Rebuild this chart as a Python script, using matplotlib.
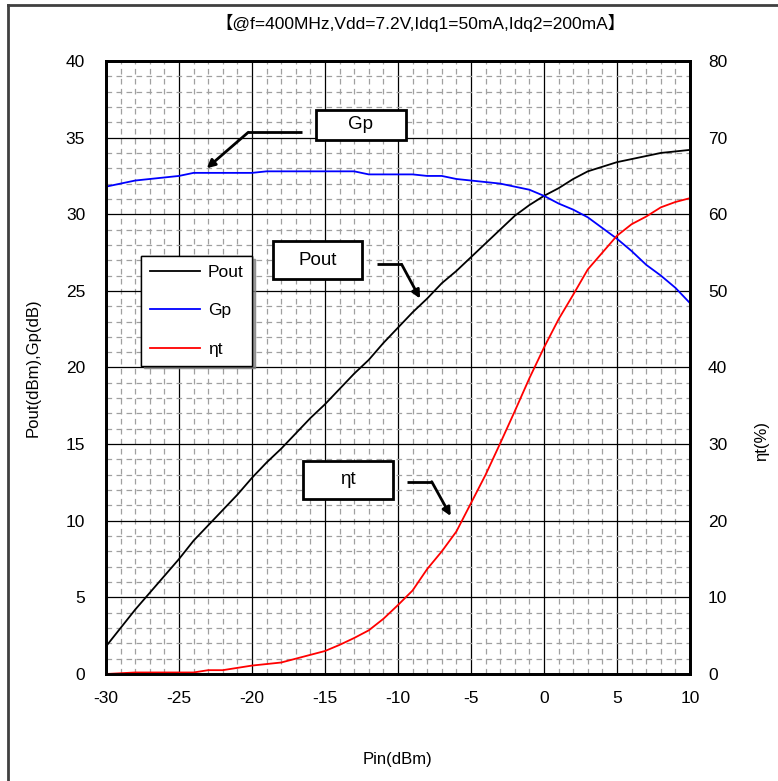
import matplotlib.pyplot as plt
from matplotlib.patches import Rectangle
from matplotlib.lines import Line2D
from matplotlib.ticker import MultipleLocator

plt.rcParams['font.family'] = ['Liberation Sans', 'DejaVu Sans']
plt.rcParams['axes.unicode_minus'] = False

# input power (dBm)
pin = list(range(-30, 11))

# output power (dBm)
pout = [1.8, 3.0, 4.2, 5.3, 6.4, 7.5, 8.7, 9.7, 10.7, 11.7,
        12.8, 13.8, 14.7, 15.7, 16.7, 17.6, 18.6, 19.6, 20.5, 21.6,
        22.6, 23.6, 24.5, 25.5, 26.3, 27.2, 28.1, 29.0, 29.9, 30.6,
        31.2, 31.7, 32.3, 32.8, 33.1, 33.4, 33.6, 33.8, 34.0, 34.1,
        34.2]

# gain (dB)
gp = [31.8, 32.0, 32.2, 32.3, 32.4, 32.5, 32.7, 32.7, 32.7, 32.7,
      32.7, 32.8, 32.8, 32.8, 32.8, 32.8, 32.8, 32.8, 32.6, 32.6,
      32.6, 32.6, 32.5, 32.5, 32.3, 32.2, 32.1, 32.0, 31.8, 31.6,
      31.2, 30.7, 30.3, 29.8, 29.1, 28.4, 27.6, 26.7, 26.0, 25.2,
      24.2]

# total efficiency (%)
eta = [0.0, 0.1, 0.2, 0.2, 0.2, 0.2, 0.2, 0.5, 0.5, 0.8,
       1.1, 1.3, 1.5, 2.0, 2.5, 3.0, 3.8, 4.7, 5.7, 7.2,
       9.0, 10.9, 13.7, 16.0, 18.6, 22.3, 26.0, 30.1, 34.3, 38.6,
       42.6, 46.3, 49.5, 52.8, 55.0, 57.2, 58.7, 59.7, 60.9, 61.6,
       62.1]

fig = plt.figure(figsize=(7.78, 7.81), dpi=100)
ax = fig.add_axes([0.1362, 0.137, 0.7507, 0.7849])
ax2 = ax.twinx()

# outer frame (left and top edges visible)
fig.add_artist(Line2D([0.0103, 0.0103], [0, 0.9936], transform=fig.transFigure,
                      color='#404040', lw=2))
fig.add_artist(Line2D([0.0103, 1], [0.9936, 0.9936], transform=fig.transFigure,
                      color='#404040', lw=2))

ax.set_xlim(-30, 10)
ax.set_ylim(0, 40)
ax2.set_ylim(0, 80)

ax.xaxis.set_major_locator(MultipleLocator(5))
ax.yaxis.set_major_locator(MultipleLocator(5))
ax.xaxis.set_minor_locator(MultipleLocator(1))
ax.yaxis.set_minor_locator(MultipleLocator(1))
ax2.yaxis.set_major_locator(MultipleLocator(10))

ax.grid(which='minor', color='#a0a0a0', ls=(0, (4.5, 3.5)), lw=0.9)
ax.grid(which='major', color='black', ls='-', lw=0.9)
ax.set_axisbelow(True)

ax.tick_params(which='both', length=0, labelsize=12.5)
ax.tick_params(axis='x', pad=12)
ax.tick_params(axis='y', pad=15)
ax2.tick_params(length=0, labelsize=12.5, pad=13)

for sp in ax.spines.values():
    sp.set_linewidth(2)
for sp in ax2.spines.values():
    sp.set_linewidth(2)

l1, = ax.plot(pin, pout, color='black', lw=1.3, label='Pout')
l2, = ax.plot(pin, gp, color='blue', lw=1.3, label='Gp')
l3, = ax2.plot(pin, eta, color='red', lw=1.3, label='ηt', clip_on=False)

ax.set_xlabel('Pin(dBm)', fontsize=12, labelpad=33)
ax.set_ylabel('Pout(dBm),Gp(dB)', fontsize=12, labelpad=18)
ax2.set_ylabel('ηt(%)', fontsize=12)
ax2.yaxis.set_label_coords(1.11, 0.38)

fig.text(0.54, 0.971, '【@f=400MHz,Vdd=7.2V,Idq1=50mA,Idq2=200mA】',
         ha='center', va='center', fontsize=12.5, fontstretch='condensed',
         family=['Liberation Sans Narrow', 'Liberation Sans', 'Noto Sans CJK SC'])

leg = ax.legend(handles=[l1, l2, l3], loc='upper left',
                bbox_to_anchor=(0.06, 0.682), borderaxespad=0, fontsize=12.5,
                fancybox=False, shadow={'color': '#808080', 'ox': 2, 'oy': -2},
                framealpha=1, edgecolor='black', handlelength=2.9,
                handletextpad=0.45, labelspacing=1.35, borderpad=0.5)
leg.get_frame().set_linewidth(1.0)
ax.add_artist(leg)

# callout boxes: (x0, y0, x1, y1) in data coords of left axis
boxes = [('Gp', (-15.62, 34.85, -9.45, 36.8)),
         ('Pout', (-18.56, 25.77, -12.47, 28.25)),
         ('ηt', (-16.5, 11.42, -10.34, 13.9))]
for label, (x0, y0, x1, y1) in boxes:
    ax.add_patch(Rectangle((x0, y0), x1 - x0, y1 - y0, facecolor='white',
                           edgecolor='black', lw=2, zorder=5))
    ax.text((x0 + x1) / 2, (y0 + y1) / 2, label, ha='center', va='center',
            fontsize=13.5, zorder=6)

# leader arrows: start, bend, tip
arrows = [((-16.6, 35.35), (-20.25, 35.35), (-23.1, 33.0)),
          ((-11.44, 26.73), (-9.75, 26.73), (-8.49, 24.5)),
          ((-9.4, 12.55), (-7.69, 12.55), (-6.39, 10.31))]
for start, bend, tip in arrows:
    ax.plot([start[0], bend[0]], [start[1], bend[1]], color='black', lw=2,
            zorder=5, solid_capstyle='butt')
    ax.annotate('', xy=tip, xytext=bend, zorder=5,
                arrowprops=dict(arrowstyle='-|>', color='black', lw=2,
                                mutation_scale=12, shrinkA=0, shrinkB=0))

fig.savefig('out.png', dpi=100)
